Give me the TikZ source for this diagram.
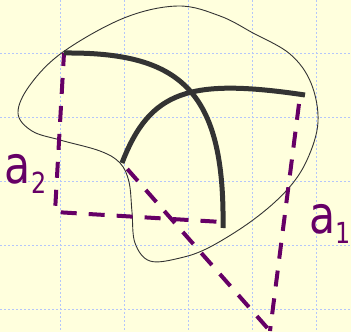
\documentclass[tikz,border=0pt]{standalone}
\usepackage{fontspec}
\setmainfont{DejaVu Sans}
\usetikzlibrary{calc}
\definecolor{bgyellow}{RGB}{255,255,221}
\definecolor{gridblue}{RGB}{180,198,250}
\definecolor{darkpurple}{RGB}{102,0,102}
\definecolor{darkgraycurve}{RGB}{51,51,51}
\tikzset{
  gridline/.style={gridblue, line width=0.9pt, dash pattern=on 2pt off 2pt},
  thickcurve/.style={darkgraycurve, line width=5pt},
  outline/.style={darkgraycurve, line width=0.9pt},
  purpledash/.style={darkpurple, line width=4pt, dash pattern=on 16pt off 12pt},
  lbl/.style={anchor=base west, inner sep=0pt, outer sep=0pt, text=darkpurple}
}
\begin{document}
\begin{tikzpicture}[x=1pt,y=-1pt]
\useasboundingbox (0,0) rectangle (351,332);
\fill[bgyellow] (0,0) rectangle (351,332);
\foreach \x in {60,124.2,188.4,252.6,316.8} \draw[gridline] (\x,0) -- (\x,332);
\foreach \y in {53,117,181,245,309} \draw[gridline] (0,\y) -- (351,\y);

% blob outline
\draw[outline] plot[smooth cycle, tension=0.6] coordinates {
  (178,6) (124,18) (63,52) (30,85) (18,113) (32,131) (60,140) (100,151) (120,163)
  (129,182) (132,212) (135,243) (150,261) (180,258) (210,247) (253,220) (287,190)
  (307,160) (318,122) (311,83) (290,54) (253,33) (220,16)};

% key points
\coordinate (p1s) at (64,53);
\coordinate (p1e) at (223,228);
\coordinate (p2s) at (122,163);
\coordinate (p2e) at (305,95);
\coordinate (c1) at (55,212);
\coordinate (c2) at (222,222);
\coordinate (c3) at (300,96);
\coordinate (bot) at (270,331);

% purple dashed projections
\draw[purpledash, dash phase=3pt] (p1s) -- (c1) -- (c2);
\draw[purpledash, dash phase=-8pt] (p2s) -- (bot);
\draw[purpledash, dash phase=-8pt] (c3) -- (bot);

% thick curves
\draw[thickcurve] (p1s) .. controls (180,52) and (225,90) .. (p1e);
\draw[thickcurve] (p2s) .. controls (150,90) and (190,78) .. (p2e);

% labels
\node[lbl] (a2) at (5,183) {\scalebox{0.82}[1]{\fontsize{52}{52}\selectfont a\raisebox{-10pt}{\fontsize{29}{29}\selectfont 2}}};
\node[lbl] (a1) at (309,233) {\scalebox{0.82}[1]{\fontsize{52}{52}\selectfont a\raisebox{-10pt}{\fontsize{29}{29}\selectfont 1}}};
\end{tikzpicture}
\end{document}
